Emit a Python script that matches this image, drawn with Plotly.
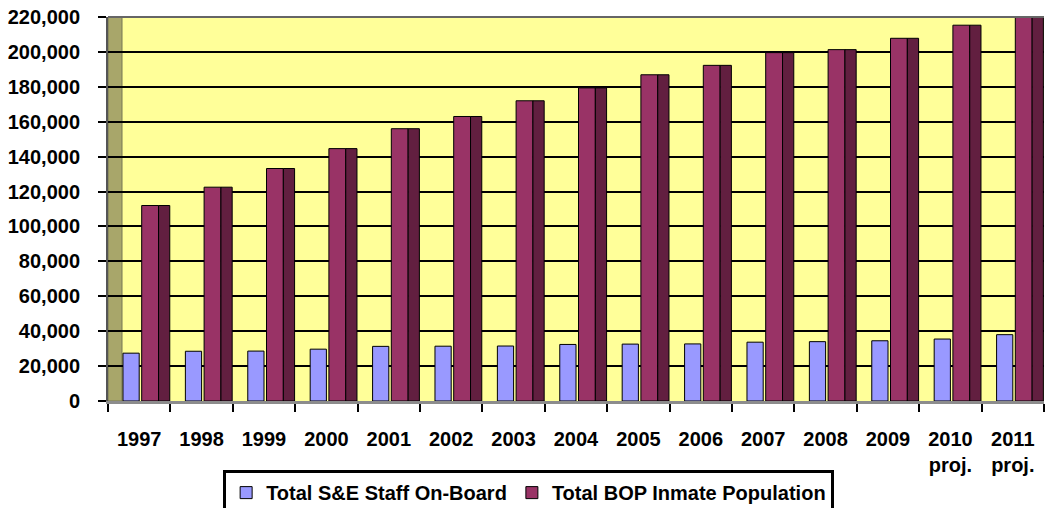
import plotly.graph_objects as go

years = ["1997", "1998", "1999", "2000", "2001", "2002", "2003", "2004",
         "2005", "2006", "2007", "2008", "2009", "2010<br>proj.", "2011<br>proj."]

staff = [27400, 28500, 28600, 29700, 31300, 31400, 31500, 32400,
         32600, 32700, 33700, 34000, 34500, 35500, 38000]

inmates = [112000, 122500, 133200, 144600, 156000, 163000, 172000, 179400,
           186900, 192300, 199600, 201300, 207800, 215300, 220000]

FONT = dict(family="Liberation Sans, Arial, sans-serif", size=20, color="black", weight="bold")

fig = go.Figure()

# staff bars (front face)
fig.add_trace(go.Bar(
    x=years, y=staff, name="Total S&E Staff On-Board",
    marker=dict(color="#9999FF", line=dict(color="black", width=1)),
    width=0.26, offset=-0.26,
))

# inmate bars: front face + darker side face to fake the 3d look
fig.add_trace(go.Bar(
    x=years, y=inmates, name="Total BOP Inmate Population",
    marker=dict(color="#993366", line=dict(color="black", width=1)),
    width=0.27, offset=0.04,
))
fig.add_trace(go.Bar(
    x=years, y=inmates, showlegend=False,
    marker=dict(color="#621F40", line=dict(color="black", width=1)),
    width=0.18, offset=0.31,
))

# left wall of the 3d box
fig.add_shape(type="rect", xref="x domain", yref="y domain",
              x0=0, x1=14 / 936, y0=0, y1=1,
              fillcolor="#A8A66A", line=dict(color="#777755", width=1), layer="below")
# top edge
fig.add_shape(type="line", xref="x domain", yref="y domain",
              x0=0, x1=1, y0=1, y1=1, line=dict(color="#666666", width=2))

fig.update_layout(
    width=1048, height=508,
    margin=dict(l=108, r=4, t=17, b=107, autoexpand=False),
    paper_bgcolor="white",
    plot_bgcolor="#FFFF99",
    barmode="overlay",
    font=FONT,
    showlegend=True,
    legend=dict(
        orientation="h", x=0.123, y=-0.18, xanchor="left", yanchor="top",
        bordercolor="black", borderwidth=3, bgcolor="white",
        font=FONT, traceorder="normal",
    ),
)

fig.update_yaxes(
    range=[0, 220000], dtick=20000, tickformat=",",
    showgrid=True, gridcolor="black", gridwidth=1.5,
    ticks="outside", ticklen=8, tickwidth=2, tickcolor="black",
    showline=True, linecolor="#555555", linewidth=2,
    ticklabelstandoff=14, tickfont=FONT, zeroline=False, automargin=False,
)

fig.update_xaxes(
    type="category", tickson="boundaries",
    ticks="outside", ticklen=8, tickwidth=2, tickcolor="black",
    showline=True, linecolor="#8C8C8C", linewidth=3,
    showgrid=False, ticklabelstandoff=18, tickfont=FONT, automargin=False,
)

# page body has an 8px default margin, drop it so the figure fills the window
fig.write_html("out.html", config={"displayModeBar": False},
               post_script="document.body.style.margin='0';")
